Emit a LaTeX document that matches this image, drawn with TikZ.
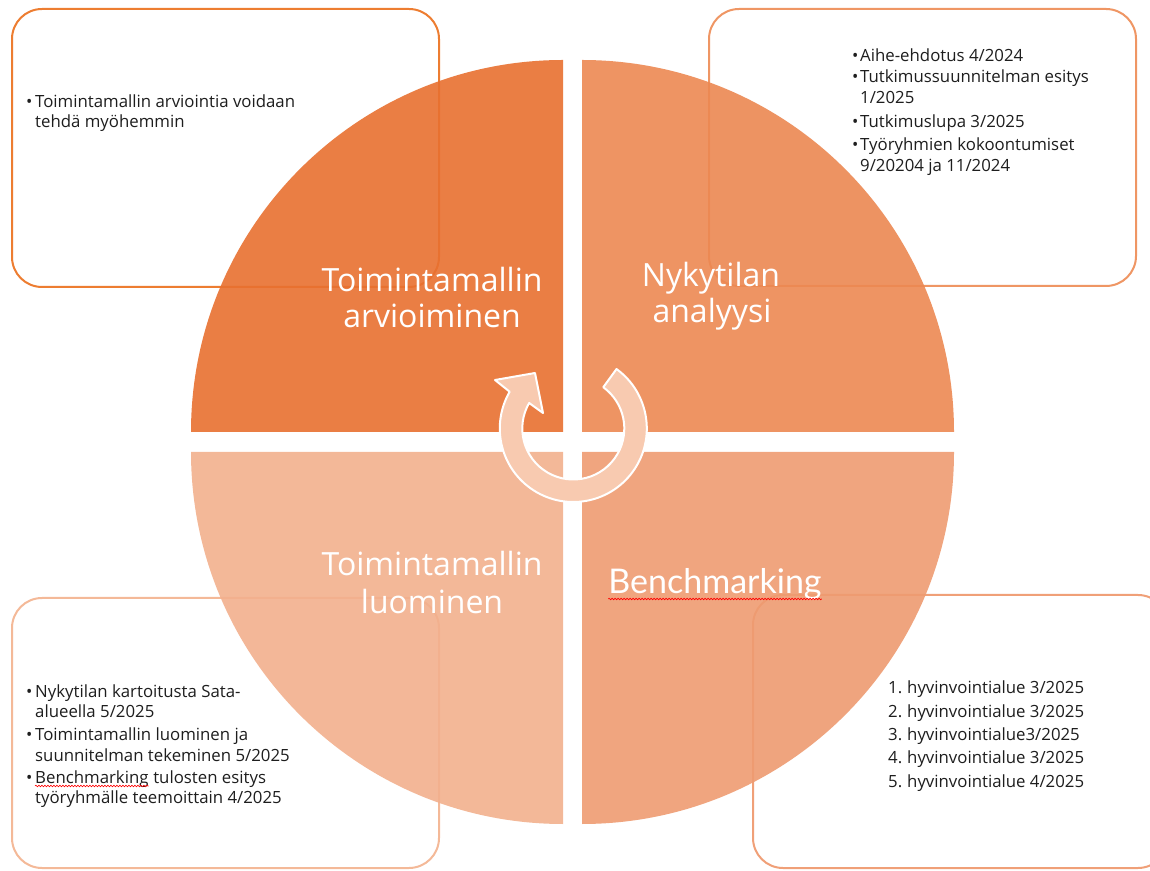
\documentclass[tikz,border=0pt]{standalone}
\usepackage{fontspec}
\setmainfont{Open Sans}
\newfontfamily\latofont{Lato}[RawFeature=-liga]
\usetikzlibrary{calc,decorations.pathmorphing}
\definecolor{qTL}{RGB}{232,112,48}
\definecolor{qTR}{RGB}{236,136,82}
\definecolor{qBR}{RGB}{238,155,113}
\definecolor{qBL}{RGB}{242,176,141}
\definecolor{bTL}{RGB}{237,125,49}
\definecolor{bTR}{RGB}{239,150,100}
\definecolor{bBR}{RGB}{240,160,120}
\definecolor{bBL}{RGB}{244,185,152}
\definecolor{ringc}{RGB}{248,202,176}
\definecolor{txt}{RGB}{30,30,30}
\tikzset{
  infobox/.style={fill=white, line width=2pt, rounded corners=30pt},
  quad/.style={fill opacity=0.9},
  title/.style={text=white, font=\fontsize{32}{36}\selectfont, anchor=base, inner sep=0pt},
  body/.style={text=txt, font=\fontsize{16.8}{20}\selectfont, anchor=base west, inner sep=0pt},
  squiggle/.style={red, line width=0.6pt, decorate, decoration={snake, amplitude=0.8pt, segment length=3pt}}
}
\begin{document}
\begin{tikzpicture}[x=1pt,y=1pt]
\useasboundingbox (0,0) rectangle (1150,870);
% information boxes (behind the circle)
\begin{scope}
\clip (0,0) rectangle (1150,870);
\draw[infobox, draw=bTL] (12,583) rectangle (439,861);
\draw[infobox, draw=bTR] (709,584) rectangle (1136,861);
\draw[infobox, draw=bBL] (12,2) rectangle (439,272);
\draw[infobox, draw=bBR] (753,2) rectangle (1168,275);
\end{scope}
% quadrants
\fill[qTL, quad] (563,438) -- ++(180:372) arc[start angle=180, end angle=90, radius=372] -- cycle;
\fill[qTR, quad] (582,438) -- ++(0:372) arc[start angle=0, end angle=90, radius=372] -- cycle;
\fill[qBL, quad] (563,418) -- ++(180:372) arc[start angle=180, end angle=270, radius=372] -- cycle;
\fill[qBR, quad] (582,418) -- ++(0:372) arc[start angle=0, end angle=-90, radius=372] -- cycle;
% titles
\node[title] (t1a) at (432,578) {Toimintamallin};
\node[title] (t1b) at (432,542) {arvioiminen};
\node[title] (t2a) at (711,583) {Nykytilan};
\node[title] (t2b) at (712,547) {analyysi};
\node[title] (t3a) at (432,294) {Toimintamallin};
\node[title] (t3b) at (432,256) {luominen};
\node[title, font=\latofont\fontsize{34}{36}\selectfont] (t4) at (715,276) {Benchmarking};
\draw[squiggle] ([yshift=-5pt]t4.base west) -- ([yshift=-5pt]t4.base east);
% central cycle arrow
\coordinate (rc) at (573.3,441.5);
\filldraw[fill=ringc, draw=white, line width=2pt, line join=round]
  ($(rc)+(54:73.5)$) arc[start angle=54, end angle=-210, radius=73.5]
  -- (495,490) -- (535,497) -- (543,457)
  -- ($(rc)+(150:51)$) arc[start angle=150, end angle=414, radius=51] -- cycle;
% top-left box text
\node[body] (tlb1) at (26,762) {•};
\node[body] (tl1) at (35,762) {Toimintamallin arviointia voidaan};
\node[body] (tl2) at (35,742) {tehdä myöhemmin};
% top-right box text
\node[body] (trb1) at (852,808) {•};
\node[body] (tr1) at (860,808) {Aihe-ehdotus 4/2024};
\node[body] (trb2) at (852,787) {•};
\node[body] (tr2) at (860,787) {Tutkimussuunnitelman esitys};
\node[body] (tr3) at (860,766) {1/2025};
\node[body] (trb4) at (852,742) {•};
\node[body] (tr4) at (860,742) {Tutkimuslupa 3/2025};
\node[body] (trb5) at (852,719) {•};
\node[body] (tr5) at (860,719) {Työryhmien kokoontumiset};
\node[body] (tr6) at (860,698) {9/20204 ja 11/2024};
% bottom-left box text
\node[body] (blb1) at (26,173) {•};
\node[body] (bl1) at (35,173) {Nykytilan kartoitusta Sata-};
\node[body] (bl2) at (35,153) {alueella 5/2025};
\node[body] (blb3) at (26,130) {•};
\node[body] (bl3) at (35,130) {Toimintamallin luominen ja};
\node[body] (bl4) at (35,109) {suunnitelman tekeminen 5/2025};
\node[body] (blb5) at (26,87) {•};
\node[body] (bl5) at (35,87) {Benchmarking};
\node[body] (bl5b) at (bl5.base east) {\ tulosten esitys};
\draw[squiggle] ([yshift=-3pt]bl5.base west) -- ([yshift=-3pt]bl5.base east);
\node[body] (bl6) at (35,67) {työryhmälle teemoittain 4/2025};
% bottom-right box text
\node[body] (brn1) at (888,177) {1.};
\node[body] (br1) at (907,177) {hyvinvointialue 3/2025};
\node[body] (brn2) at (888,153) {2.};
\node[body] (br2) at (907,153) {hyvinvointialue 3/2025};
\node[body] (brn3) at (888,130) {3.};
\node[body] (br3) at (907,130) {hyvinvointialue3/2025};
\node[body] (brn4) at (888,107) {4.};
\node[body] (br4) at (907,107) {hyvinvointialue 3/2025};
\node[body] (brn5) at (888,83) {5.};
\node[body] (br5) at (907,83) {hyvinvointialue 4/2025};
\end{tikzpicture}
\end{document}
